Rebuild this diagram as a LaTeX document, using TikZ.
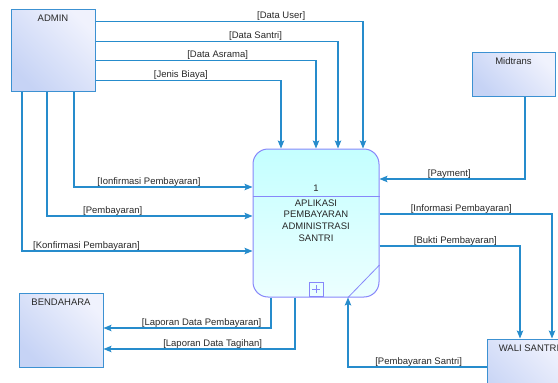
\documentclass[tikz,border=0pt]{standalone}
\usepackage{fontspec}
\setmainfont{Liberation Sans}
\usetikzlibrary{arrows.meta, positioning}
\definecolor{flowblue}{RGB}{38,140,204}
\definecolor{entline}{RGB}{60,145,210}
\definecolor{entdark}{RGB}{198,211,245}
\definecolor{entlight}{RGB}{240,242,253}
\definecolor{procline}{RGB}{135,135,250}
\definecolor{proctop}{RGB}{236,255,255}
\definecolor{procbot}{RGB}{196,255,255}
\definecolor{txt}{RGB}{40,40,40}

\begin{document}
\begin{tikzpicture}[x=1pt, y=-1pt,
    font=\fontsize{9.5}{11.6}\selectfont, text=txt,
    % y axis points down, so the shading colours are given upside down
    entity/.style={draw=entline, line width=1pt, top color=entlight, bottom color=entdark, shading angle=-45, minimum width=84pt, inner sep=0pt},
    process/.style={draw=procline, line width=1pt, rounded corners=15pt, top color=procbot, bottom color=proctop, minimum width=126pt, minimum height=148pt, inner sep=0pt},
    flow/.style={draw=flowblue, line width=1.2pt, -{Stealth[length=8pt,width=6.5pt,inset=1.5pt]}},
    lbl/.style={above, inner sep=0.3pt}]
        \clip (0,0) rectangle (558,383);

        % entities
        \node[entity, minimum height=82pt] (admin) at (53,50) {};
        \node[below=2.5pt of admin.north] (admintxt) {ADMIN};
        \node[entity, minimum height=44pt, minimum width=83pt] (midtrans) at (513.5,74) {};
        \node[below=2.5pt of midtrans.north] (midtranstxt) {Midtrans};
        \node[entity, minimum height=74pt] (bendahara) at (61,330) {};
        \node[below=2.5pt of bendahara.north] (bendaharatxt) {BENDAHARA};
        \node[entity, minimum height=74pt] (wali) at (529,376) {};
        \node[below=2.5pt of wali.north] (walitxt) {WALI SANTRI};

        % process
        \node[process] (proc) at (316,223) {};
        \draw[procline, line width=1pt] ([yshift=27pt]proc.west) -- ([yshift=27pt]proc.east);
        \draw[procline, line width=0.8pt] ([yshift=-42pt]proc.east) -- ([xshift=32pt]proc.south);
        \node (pid) at (316,188) {1};
        \node[align=center] (pname) at (316,220.5) {APLIKASI\\PEMBAYARAN\\ADMINISTRASI\\SANTRI};
        \node[draw=procline, line width=0.8pt, minimum size=14pt, inner sep=0pt] (psub) at (316,289) {};
        \draw[procline, line width=0.8pt] ([xshift=-4pt]psub.center) -- ([xshift=4pt]psub.center);
        \draw[procline, line width=0.8pt] ([yshift=-4pt]psub.center) -- ([yshift=4pt]psub.center);

        % flows from admin
        \draw[flow] ([yshift=-13pt]admin.north east) -| node[lbl, pos=0.347] {[Data User]} ([xshift=47pt]proc.north);
        \draw[flow] ([yshift=-33pt]admin.north east) -| node[lbl, pos=0.33] {[Data Santri]} ([xshift=22pt]proc.north);
        \draw[flow] ([yshift=-52pt]admin.north east) -| node[lbl, pos=0.277] {[Data Asrama]} (proc.north);
        \draw[flow] ([yshift=-72pt]admin.north east) -| node[lbl, pos=0.23] {[Jenis Biaya]} ([xshift=-35pt]proc.north);
        \draw[flow] ([xshift=21pt]admin.south) |- node[lbl, pos=0.71] {[Ionfirmasi Pembayaran]} ([yshift=36pt]proc.west);
        \draw[flow] ([xshift=-6pt]admin.south) |- node[lbl, pos=0.66] {[Pembayaran]} ([yshift=7pt]proc.west);
        \draw[flow] ([xshift=-31pt]admin.south) |- node[lbl, pos=0.64] {[Konfirmasi Pembayaran]} ([yshift=-28pt]proc.west);

        % flows on the right
        \draw[flow] ([xshift=11.5pt]midtrans.south) |- node[lbl, pos=0.76] {[Payment]} ([yshift=44pt]proc.east);
        \draw[flow] ([yshift=9pt]proc.east) -| node[lbl, pos=0.237] {[Informasi Pembayaran]} ([xshift=23pt]wali.north);
        \draw[flow] ([yshift=-23pt]proc.east) -| node[lbl, pos=0.27] {[Bukti Pembayaran]} ([xshift=-9pt]wali.north);
        \draw[flow] ([yshift=9pt]wali.west) -| node[lbl, pos=0.245] {[Pembayaran Santri]} ([xshift=32pt]proc.south);

        % flows to bendahara
        \draw[flow] ([xshift=-45pt]proc.south) |- node[lbl, pos=0.707] {[Laporan Data Pembayaran]} ([yshift=2pt]bendahara.east);
        \draw[flow] ([xshift=-21pt]proc.south) |- node[lbl, pos=0.715] {[Laporan Data Tagihan]} ([yshift=-19pt]bendahara.east);
\end{tikzpicture}
\end{document}
